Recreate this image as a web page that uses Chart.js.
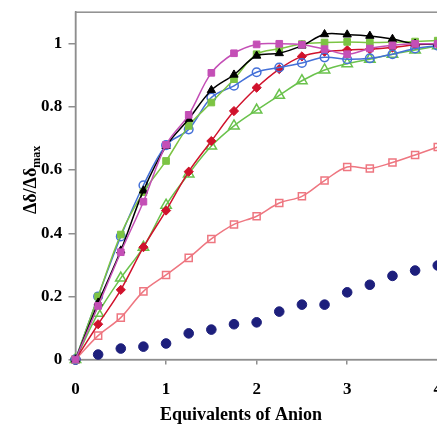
<!DOCTYPE html>
<html>
<head>
<meta charset="utf-8">
<script src="https://cdn.jsdelivr.net/npm/chart.js@4/dist/chart.umd.min.js"></script>
<style>
  html, body { margin: 0; padding: 0; background: #fff; overflow: hidden; }
  #wrap { position: absolute; left: 0; top: 0; width: 457px; height: 426px; }
</style>
</head>
<body>
<div id="wrap"><canvas id="myChart"></canvas></div>
<script>
// equivalents of anion added
const equivalents = [0, 0.25, 0.5, 0.75, 1, 1.25, 1.5, 1.75, 2, 2.25, 2.5, 2.75, 3, 3.25, 3.5, 3.75, 4];

// normalised shift for each anion
const magentaSquares = [0, 0.17, 0.34, 0.50, 0.68, 0.775, 0.908, 0.97, 0.998, 1.0, 0.997, 0.983, 0.967, 0.985, 0.995, 1.0, 1.0];
const blackTriangles = [0, 0.18, 0.345, 0.535, 0.676, 0.762, 0.853, 0.902, 0.962, 0.97, 0.994, 1.03, 1.029, 1.025, 1.015, 1.0, 1.0];
const greenSquares = [0, 0.2, 0.396, 0.53, 0.629, 0.74, 0.814, 0.888, 0.967, 0.984, 0.999, 1.004, 1.006, 1.004, 1.005, 1.007, 1.01];
const blueCircles = [0, 0.2, 0.39, 0.552, 0.679, 0.729, 0.83, 0.867, 0.91, 0.925, 0.939, 0.957, 0.951, 0.954, 0.967, 0.985, 0.994];
const redDiamonds = [0, 0.112, 0.221, 0.356, 0.472, 0.595, 0.692, 0.787, 0.861, 0.92, 0.96, 0.975, 0.98, 0.983, 0.988, 0.997, 1.0];
const greenTriangles = [0, 0.147, 0.258, 0.356, 0.489, 0.588, 0.676, 0.740, 0.790, 0.837, 0.883, 0.917, 0.937, 0.951, 0.967, 0.98, 0.994];
const pinkSquares = [0, 0.076, 0.133, 0.216, 0.268, 0.322, 0.382, 0.428, 0.454, 0.496, 0.517, 0.567, 0.610, 0.605, 0.624, 0.648, 0.673];
const navyCircles = [0, 0.016, 0.035, 0.041, 0.051, 0.083, 0.095, 0.112, 0.118, 0.152, 0.174, 0.174, 0.213, 0.237, 0.265, 0.282, 0.298];

const xTicks = [0, 1, 2, 3, 4];
const yTicks = [0, 0.2, 0.4, 0.6, 0.8, 1];
const xTitle = 'Equivalents of Anion';

const pts = (arr) => equivalents.map((x, i) => ({x, y: arr[i]}));

function series(label, arr, color, style, filled, radius, line) {
  return {
    label,
    data: pts(arr),
    borderColor: color,
    backgroundColor: filled ? color : 'rgba(255,255,255,0)',
    pointStyle: style,
    pointRadius: radius,
    pointHoverRadius: radius,
    pointBorderWidth: filled ? 1 : 1.5,
    borderWidth: 1.5,
    showLine: line,
    tension: 0.35,
    clip: false
  };
}

// axis titles + box round the plot
const decor = {
  id: 'decor',
  beforeDatasetsDraw(chart) {
    const {ctx, chartArea: a} = chart;
    ctx.save();
    ctx.strokeStyle = '#8e8e8e';
    ctx.lineWidth = 1.5;
    ctx.strokeRect(a.left, a.top, a.right - a.left, a.bottom - a.top);
    ctx.restore();
  },
  afterDraw(chart) {
    const {ctx, chartArea: a} = chart;
    ctx.save();
    ctx.fillStyle = '#000';
    ctx.textBaseline = 'alphabetic';
    ctx.textAlign = 'left';
    ctx.font = 'bold 18px "Liberation Serif"';
    const w = ctx.measureText(xTitle).width;
    ctx.fillText(xTitle, a.left + (a.right - a.left) * 0.457 - w / 2, chart.height - 6);

    // y title, rotated, with subscript
    const main = 'Δδ/Δδ';
    const sub = 'max';
    ctx.font = 'bold 18px "Liberation Serif"';
    const w1 = ctx.measureText(main).width;
    ctx.font = 'bold 12px "Liberation Serif"';
    const w2 = ctx.measureText(sub).width;
    ctx.translate(36, (a.top + a.bottom) / 2 - 6);
    ctx.rotate(-Math.PI / 2);
    const x0 = -(w1 + w2) / 2;
    ctx.font = 'bold 18px "Liberation Serif"';
    ctx.fillText(main, x0, 0);
    ctx.font = 'bold 12px "Liberation Serif"';
    ctx.fillText(sub, x0 + w1, 4);
    ctx.restore();
  }
};

Chart.defaults.font.family = '"Liberation Serif", serif';
Chart.defaults.font.weight = 'bold';
Chart.defaults.color = '#000';

const ctx = document.getElementById('myChart').getContext('2d');
const myChart = new Chart(ctx, {
  type: 'line',
  data: {
    datasets: [
      series('magenta', magentaSquares, '#c44fb6', 'rect', true, 4.7, true),
      series('black', blackTriangles, '#000000', 'triangle', true, 4.8, true),
      series('light green', greenSquares, '#7cc443', 'rect', true, 4.7, true),
      series('blue', blueCircles, '#4470d8', 'circle', false, 4.3, true),
      series('red', redDiamonds, '#d0122c', 'rectRot', true, 4.6, true),
      series('green', greenTriangles, '#6ac24c', 'triangle', false, 6, true),
      series('pink', pinkSquares, '#ee7680', 'rect', false, 5, true),
      series('navy', navyCircles, '#1d1f7c', 'circle', true, 4.8, false)
    ]
  },
  options: {
    responsive: true,
    maintainAspectRatio: false,
    animation: false,
    layout: { padding: { left: 39, top: 0, bottom: 11, right: 0 } },
    plugins: { legend: { display: false }, tooltip: { enabled: false } },
    scales: {
      x: {
        type: 'linear',
        min: 0,
        max: 4,
        afterBuildTicks: (s) => { s.ticks = xTicks.map(v => ({value: v})); },
        ticks: { font: { size: 17, weight: 'bold' }, padding: 15, maxRotation: 0, callback: (v) => String(v) },
        grid: { display: true, drawOnChartArea: false, drawTicks: true, tickLength: 5, color: '#8e8e8e', lineWidth: 1.5 },
        border: { display: true, color: '#8e8e8e', width: 1.5 }
      },
      y: {
        min: 0,
        max: 1.1,
        afterBuildTicks: (s) => { s.ticks = yTicks.map(v => ({value: v})); },
        ticks: { font: { size: 17, weight: 'bold' }, padding: 2, callback: (v) => String(+v.toFixed(1)) + ' ' },
        grid: { display: true, drawOnChartArea: false, drawTicks: true, tickLength: 7, color: '#8e8e8e', lineWidth: 1.5 },
        border: { display: true, color: '#8e8e8e', width: 1.5 }
      }
    }
  },
  plugins: [decor]
});
</script>
</body>
</html>
